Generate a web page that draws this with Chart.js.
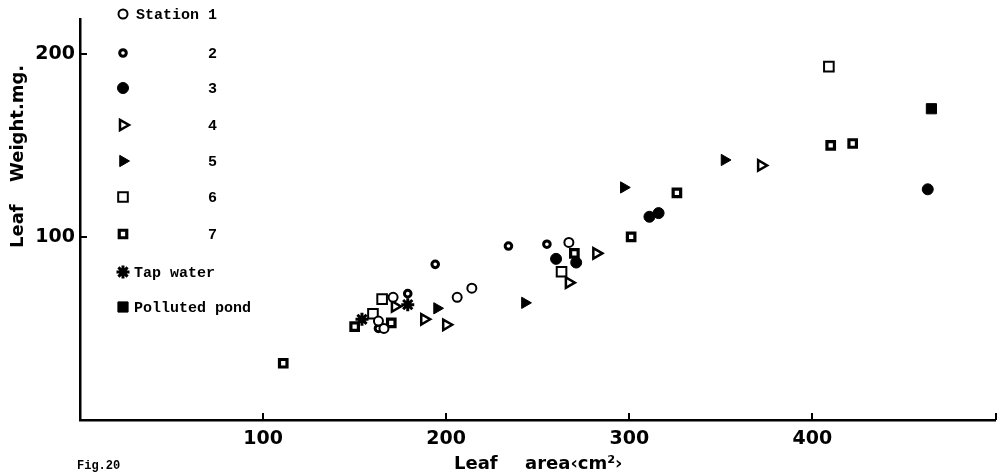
<!DOCTYPE html>
<html>
<head>
<meta charset="utf-8">
<title>Leaf weight vs leaf area</title>
<script src="https://cdn.jsdelivr.net/npm/chart.js@4/dist/chart.umd.min.js"></script>
<style>
  html, body { margin: 0; padding: 0; background: #fff; }
  #wrap { width: 1005px; height: 475px; }
</style>
</head>
<body>
<div id="wrap"><canvas id="leafChart" width="1005" height="475"></canvas></div>
<script>
// leaf area (cm2) and leaf weight (mg) per sampling site
const st1Area = [163, 166, 171, 206, 214, 267];
const st1Weight = [54, 50, 67, 67, 72, 97];
const st2Area = [163, 179, 194, 234, 255];
const st2Weight = [50, 69, 85, 95, 96];
const st3Area = [260, 271, 311, 316, 463];
const st3Weight = [88, 86, 111, 113, 126];
const st4Area = [172, 188, 200, 267, 282, 372];
const st4Weight = [62, 55, 52, 75, 91, 139];
const st5Area = [195, 243, 297, 352];
const st5Weight = [61, 64, 127, 142];
const st6Area = [160, 165, 263, 409];
const st6Weight = [58, 66, 81, 193];
const st7Area = [111, 150, 170, 270, 301, 326, 410, 422];
const st7Weight = [31, 51, 53, 91, 100, 124, 150, 151];
const tapArea = [154, 179];
const tapWeight = [55, 63];
const pondArea = [465];
const pondWeight = [170];

const seriesLabels = ['Station 1', '2', '3', '4', '5', '6', '7', 'Tap water', 'Polluted pond'];
const xTickValues = [100, 200, 300, 400];
const yTickValues = [100, 200];

const BLACK = '#000';
const WHITE = '#fff';

function pts(xs, ys) {
  return xs.map((x, i) => ({ x: x, y: ys[i] }));
}

// marker look for each series, in legend order
const markers = [
  { pointStyle: 'circle',   radius: 4.5, borderWidth: 2,   fill: WHITE, rotation: 0 },
  { pointStyle: 'circle',   radius: 3.3, borderWidth: 3,   fill: WHITE, rotation: 0 },
  { pointStyle: 'circle',   radius: 5.5, borderWidth: 1,   fill: BLACK, rotation: 0 },
  { pointStyle: 'triangle', radius: 6,   borderWidth: 2.5, fill: WHITE, rotation: 90 },
  { pointStyle: 'triangle', radius: 6.5, borderWidth: 1,   fill: BLACK, rotation: 90 },
  { pointStyle: 'rect',     radius: 6.8, borderWidth: 2,   fill: WHITE, rotation: 0 },
  { pointStyle: 'rect',     radius: 5.3, borderWidth: 3.2, fill: WHITE, rotation: 0 },
  { pointStyle: 'star',     radius: 6.5, borderWidth: 3,   fill: BLACK, rotation: 0 },
  { pointStyle: 'rect',     radius: 7.2, borderWidth: 1,   fill: BLACK, rotation: 0 }
];

const seriesData = [
  pts(st1Area, st1Weight), pts(st2Area, st2Weight), pts(st3Area, st3Weight),
  pts(st4Area, st4Weight), pts(st5Area, st5Weight), pts(st6Area, st6Weight),
  pts(st7Area, st7Weight), pts(tapArea, tapWeight), pts(pondArea, pondWeight)
];

const datasets = seriesData.map((d, i) => ({
  label: seriesLabels[i],
  data: d,
  pointStyle: markers[i].pointStyle,
  pointRadius: markers[i].radius,
  pointRotation: markers[i].rotation,
  pointBorderWidth: markers[i].borderWidth,
  pointBackgroundColor: markers[i].fill,
  pointBorderColor: BLACK,
  showLine: false
}));

const BOLD_SANS = 'bold 19px "DejaVu Sans"';
const TITLE_SANS = 'bold 18px "DejaVu Sans"';
const MONO = 'bold 15px "Liberation Mono"';

// legend, axis titles, inward tick marks and the figure number
const paperPlugin = {
  id: 'paper',
  afterDraw(chart) {
    const ctx = chart.ctx;
    const xs = chart.scales.x;
    const ys = chart.scales.y;
    ctx.save();

    // short tick marks pointing into the plot
    ctx.strokeStyle = BLACK;
    ctx.lineWidth = 2;
    ctx.beginPath();
    xTickValues.concat([xs.max]).forEach(v => {
      const px = Math.round(xs.getPixelForValue(v));
      ctx.moveTo(px, ys.bottom);
      ctx.lineTo(px, ys.bottom - 7);
    });
    yTickValues.forEach(v => {
      const py = Math.round(ys.getPixelForValue(v));
      ctx.moveTo(xs.left, py);
      ctx.lineTo(xs.left + 7, py);
    });
    ctx.stroke();

    // legend column
    const rowsY = [14, 53, 88, 125, 161, 197, 234, 272, 307];
    const symX = 123;
    ctx.font = MONO;
    ctx.fillStyle = BLACK;
    ctx.textBaseline = 'middle';
    ctx.textAlign = 'left';
    markers.forEach((m, i) => {
      ctx.fillStyle = m.fill;
      ctx.strokeStyle = BLACK;
      ctx.lineWidth = m.borderWidth;
      Chart.helpers.drawPoint(ctx, {
        pointStyle: m.pointStyle,
        radius: m.radius,
        rotation: m.rotation,
        borderWidth: m.borderWidth
      }, symX, rowsY[i]);
      ctx.fillStyle = BLACK;
      let tx = 208;
      if (i === 0) tx = 136;
      if (i >= 7) tx = 134;
      ctx.fillText(seriesLabels[i], tx, rowsY[i] + 1);
    });

    // axis titles
    ctx.font = TITLE_SANS;
    ctx.fillStyle = BLACK;
    ctx.textBaseline = 'middle';
    ctx.textAlign = 'left';
    ctx.fillText('Leaf', 454, 464);
    ctx.fillText('area\u2039cm\u00b2\u203a', 525, 464);

    ctx.save();
    ctx.translate(18, 248);
    ctx.rotate(-Math.PI / 2);
    ctx.fillText('Leaf', 0, 0);
    ctx.fillText('Weight.mg.', 66, 0);
    ctx.restore();

    ctx.font = 'bold 12px "Liberation Mono"';
    ctx.fillText('Fig.20', 77, 466);

    ctx.restore();
  }
};

new Chart(document.getElementById('leafChart'), {
  type: 'scatter',
  data: { datasets: datasets },
  plugins: [paperPlugin],
  options: {
    responsive: false,
    animation: false,
    devicePixelRatio: 1,
    layout: { padding: { top: 19, right: 8, left: 0, bottom: 0 } },
    plugins: {
      legend: { display: false },
      tooltip: { enabled: false }
    },
    scales: {
      x: {
        type: 'linear',
        min: 0,
        max: 500,
        afterBuildTicks: s => { s.ticks = xTickValues.map(v => ({ value: v })); },
        afterFit: s => { s.height = 55; },
        grid: { display: true, drawOnChartArea: false, drawTicks: false },
        border: { display: true, color: BLACK, width: 2.5 },
        ticks: { color: BLACK, font: { family: 'DejaVu Sans', weight: 'bold', size: 19 }, padding: 8, maxRotation: 0 }
      },
      y: {
        type: 'linear',
        min: 0,
        max: 219,
        afterBuildTicks: s => { s.ticks = yTickValues.map(v => ({ value: v })); },
        afterFit: s => { s.width = 80; },
        grid: { display: true, drawOnChartArea: false, drawTicks: false },
        border: { display: true, color: BLACK, width: 2.5 },
        ticks: { color: BLACK, font: { family: 'DejaVu Sans', weight: 'bold', size: 19 }, padding: 5 }
      }
    }
  }
});
</script>
</body>
</html>
